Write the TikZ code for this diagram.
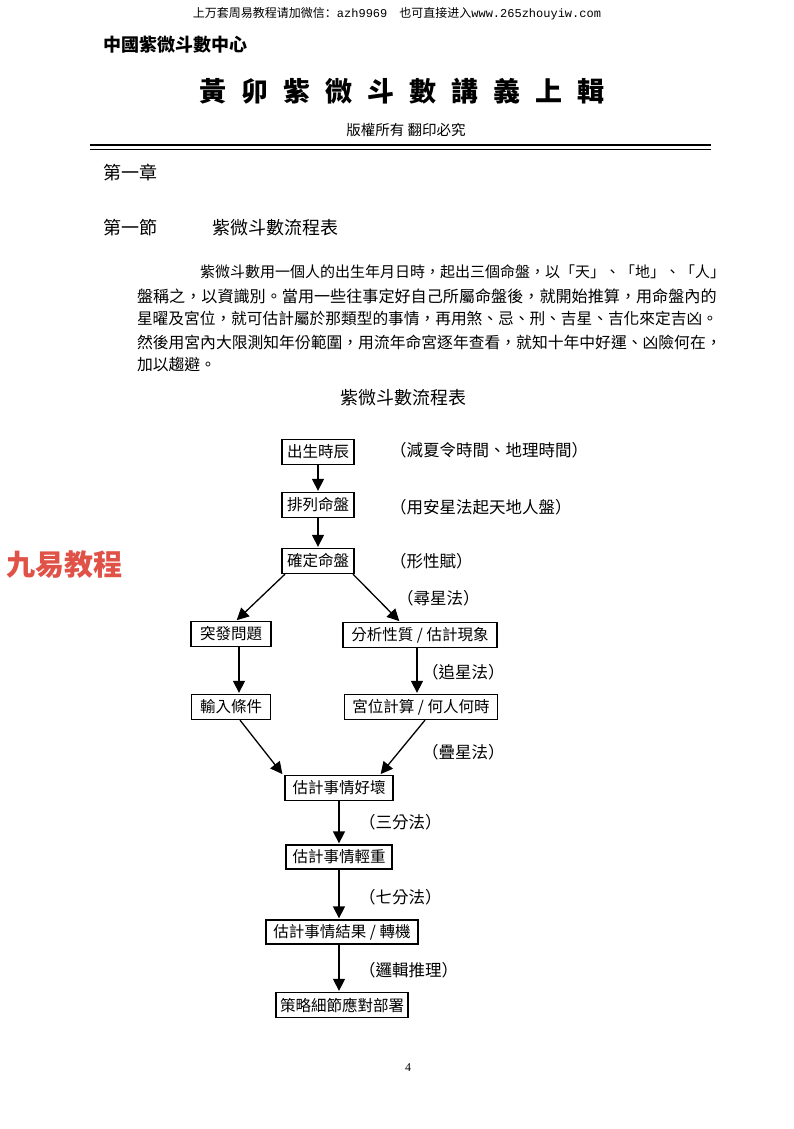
\documentclass[tikz,border=0pt]{standalone}
\usepackage{fontspec}
\setmainfont{Liberation Serif}
\newfontfamily\tcfont{Noto Sans CJK TC}
\newfontfamily\scfont{Noto Sans CJK SC}
\newfontfamily\wmmono{Liberation Mono}
\usetikzlibrary{arrows.meta}
\definecolor{wmred}{RGB}{224,82,72}
\newcommand{\fs}[1]{\fontsize{#1}{#1}\selectfont}
\newcommand{\tg}{\hspace{15pt}}
\begin{document}
\begin{tikzpicture}[x=1pt,y=-1pt,
  txt/.style={inner sep=0pt, outer sep=0pt},
  box/.style={draw, line width=1.3pt, minimum height=25pt, inner sep=0pt, font=\tcfont\fs{15.5}},
  lab/.style={anchor=west, inner sep=0pt, font=\tcfont\fs{16.5}},
  arr/.style={line width=1.3pt, -{Triangle[length=12pt,width=12pt]}, shorten >=1pt}]
\useasboundingbox (0,0) rectangle (793,1129);
\fill[white] (0,0) rectangle (793,1129);

% top watermark
\node[txt] (wm) at (397,14) {\scfont\fs{12}上万套周易教程请加微信：{\wmmono azh9969}\hspace{12pt}也可直接进入{\wmmono www.265zhouyiw.com}};

% header
\node[txt, anchor=west] (center) at (103,45) {\tcfont\bfseries\fs{18}中國紫微斗數中心};
\node[txt] (title) at (402,91) {\tcfont\bfseries\fs{27}黃\tg 卯\tg 紫\tg 微\tg 斗\tg 數\tg 講\tg 義\tg 上\tg 輯};
\node[txt] (copy) at (406,130) {\tcfont\fs{14.5}版權所有 翻印必究};
\draw[line width=2pt] (90,145) -- (711,145);
\draw[line width=0.8pt] (90,149.5) -- (711,149.5);

% chapter
\node[txt, anchor=west] (chap) at (103,173) {\tcfont\fs{18}第一章};
\node[txt, anchor=west] (sect) at (103,228) {\tcfont\fs{18}第一節};
\node[txt, anchor=west] (secttitle) at (212,228) {\tcfont\fs{18}紫微斗數流程表};

% paragraph
\node[txt, anchor=west] (p1) at (200,272) {\tcfont\fs{15.0}紫微斗數用一個人的出生年月日時，起出三個命盤，以「天」、「地」、「人」};
\node[txt, anchor=west] (p2) at (137,296) {\tcfont\fs{16.1}盤稱之，以資識別。當用一些往事定好自己所屬命盤後，就開始推算，用命盤內的};
\node[txt, anchor=west] (p3) at (137,319) {\tcfont\fs{15.7}星曜及宮位，就可估計屬於那類型的事情，再用煞、忌、刑、吉星、吉化來定吉凶。};
\node[txt, anchor=west] (p4) at (137,342) {\tcfont\fs{15.8}然後用宮內大限測知年份範圍，用流年命宮逐年查看，就知十年中好運、凶險何在，};
\node[txt, anchor=west] (p5) at (137,364) {\tcfont\fs{15.8}加以趨避。};

% watermark
\node[txt, anchor=west] (jiuyi) at (6,565) {\scfont\bfseries\color{wmred}\fs{29}九易教程};

% flow title
\node[txt] (ftitle) at (403,398) {\tcfont\fs{18}紫微斗數流程表};

% boxes
\node[box, minimum width=72pt] (n1) at (318,452) {出生時辰};
\node[box, minimum width=72pt] (n2) at (318,505) {排列命盤};
\node[box, minimum width=72pt] (n3) at (318,561) {確定命盤};
\node[box, minimum width=80pt] (n4) at (231,634) {突發問題};
\node[box, minimum width=154pt] (n5) at (420,635) {分析性質 / 估計現象};
\node[box, minimum width=79pt] (n6) at (231,707) {輸入條件};
\node[box, minimum width=153pt] (n7) at (421,707) {宮位計算 / 何人何時};
\node[box, minimum width=108pt] (n8) at (339,788) {估計事情好壞};
\node[box, minimum width=106pt, minimum height=24pt] (n9) at (339,857) {估計事情輕重};
\node[box, minimum width=152pt, minimum height=24pt] (n10) at (342,932) {估計事情結果 / 轉機};
\node[box, minimum width=132pt] (n11) at (342,1005) {策略細節應對部署};

% labels
\node[lab] (l1) at (390,450) {（減夏令時間、地理時間）};
\node[lab] (l2) at (390,507) {（用安星法起天地人盤）};
\node[lab] (l3) at (390,561) {（形性賦）};
\node[lab] (l4) at (397,598) {（尋星法）};
\node[lab] (l5) at (422,672) {（追星法）};
\node[lab] (l6) at (422,752) {（疊星法）};
\node[lab] (l7) at (359,822) {（三分法）};
\node[lab] (l8) at (359,897) {（七分法）};
\node[lab] (l9) at (359,970) {（邏輯推理）};

% arrows
\draw[arr] (n1.south) -- (n2.north);
\draw[arr] (n2.south) -- (n3.north);
\draw[arr] ([xshift=-33pt]n3.south) -- ([xshift=5pt]n4.north);
\draw[arr] ([xshift=35pt]n3.south) -- ([xshift=-20pt]n5.north);
\draw[arr] ([xshift=8pt]n4.south) -- ([xshift=8pt]n4.south |- n6.north);
\draw[arr] ([xshift=-3pt]n5.south) -- ([xshift=-3pt]n5.south |- n7.north);
\draw[arr] ([xshift=9pt]n6.south) -- ([xshift=-56pt]n8.north);
\draw[arr] ([xshift=4pt]n7.south) -- ([xshift=41pt]n8.north);
\draw[arr] (n8.south) -- (n8.south |- n9.north);
\draw[arr] (n9.south) -- (n9.south |- n10.north);
\draw[arr] ([xshift=-3pt]n10.south) -- ([xshift=-3pt]n10.south |- n11.north);

% page number
\node[txt] (page) at (408,1068) {\fs{12}4};
\end{tikzpicture}
\end{document}
